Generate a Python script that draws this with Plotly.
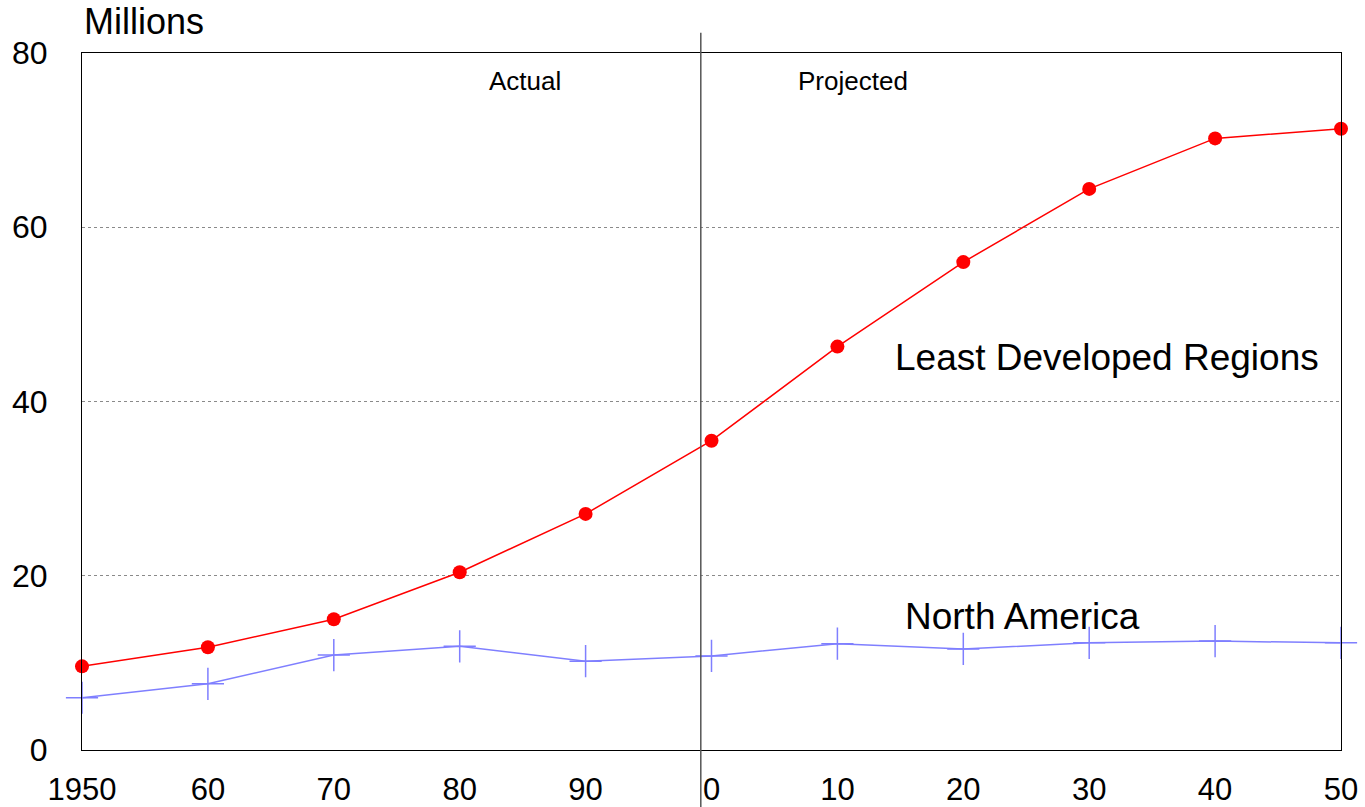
import plotly.graph_objects as go

years = [1950, 1960, 1970, 1980, 1990, 2000, 2010, 2020, 2030, 2040, 2050]
least_developed = [9.6, 11.8, 15.0, 20.4, 27.1, 35.5, 46.3, 56.0, 64.4, 70.2, 71.3]
north_america = [6.0, 7.6, 10.9, 11.9, 10.2, 10.8, 12.2, 11.6, 12.3, 12.5, 12.3]

x_tick_vals = [1950, 1960, 1970, 1980, 1990, 2000, 2010, 2020, 2030, 2040, 2050]
x_tick_text = ["1950", "60", "70", "80", "90", "0", "10", "20", "30", "40", "50"]
y_tick_vals = [0, 20, 40, 60, 80]

divider_year = 1999.15
FONT = "Liberation Sans, Arial, sans-serif"

fig = go.Figure()

fig.add_trace(go.Scatter(
    x=years, y=north_america, mode="lines+markers",
    line=dict(color="#7f7fff", width=1.5),
    marker=dict(symbol="cross-thin", size=23,
                line=dict(color="#7f7fff", width=1.5)),
    showlegend=False, cliponaxis=False,
))

fig.add_trace(go.Scatter(
    x=years, y=least_developed, mode="lines+markers",
    line=dict(color="#ff0000", width=1.5),
    marker=dict(symbol="circle", size=14, color="#ff0000"),
    showlegend=False, cliponaxis=False,
))

# Divider between actual and projected periods
fig.add_shape(type="line", xref="x", yref="paper",
              x0=divider_year, x1=divider_year, y0=-0.09, y1=1.029,
              line=dict(color="#555555", width=1.5))

annotations = [
    dict(text="Millions", x=0.0, y=1.0445, xref="paper", yref="paper",
         xanchor="left", yanchor="middle", font=dict(size=36)),
    dict(text="Actual", x=1985.2, y=76.8, xanchor="center", yanchor="middle",
         font=dict(size=26)),
    dict(text="Projected", x=2011.2, y=76.8, xanchor="center", yanchor="middle",
         font=dict(size=26)),
    dict(text="Least Developed Regions", x=2014.4, y=45.1, xanchor="left",
         yanchor="middle", font=dict(size=37)),
    dict(text="North America", x=2015.2, y=15.3, xanchor="left",
         yanchor="middle", font=dict(size=37)),
]
for a in annotations:
    a.setdefault("xref", "x")
    a.setdefault("yref", "y")
    a["showarrow"] = False
    a["font"]["family"] = FONT
    a["font"]["color"] = "black"
fig.update_layout(annotations=annotations)

fig.update_layout(
    width=1365, height=807,
    margin=dict(l=82, r=24, t=53, b=57),
    paper_bgcolor="white", plot_bgcolor="white",
    font=dict(family=FONT, color="black"),
    xaxis=dict(
        range=[1950, 2050], tickvals=x_tick_vals, ticktext=x_tick_text,
        showgrid=False, zeroline=False, showline=True, mirror=True,
        linecolor="black", linewidth=1, ticks="", ticklabelstandoff=12,
        tickfont=dict(size=31, family=FONT, color="black"),
        automargin=False,
    ),
    yaxis=dict(
        range=[0, 80], tickvals=y_tick_vals,
        showgrid=True, gridcolor="#8a8a8a", griddash="dot", gridwidth=1,
        zeroline=False, showline=True, mirror=True,
        linecolor="black", linewidth=1, ticks="", ticklabelstandoff=27,
        tickfont=dict(size=32, family=FONT, color="black"),
        automargin=False,
    ),
)

fig.write_html("out.html")
